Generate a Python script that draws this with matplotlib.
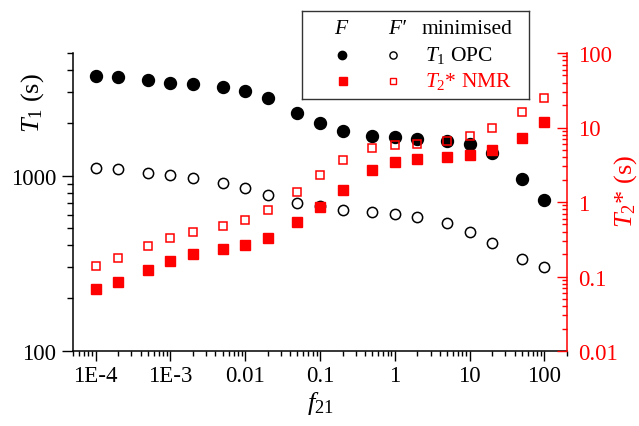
import matplotlib
matplotlib.use("Agg")
import matplotlib.pyplot as plt
from matplotlib.ticker import FixedLocator, FixedFormatter, LogLocator, NullFormatter

plt.rcParams['font.family'] = ['Liberation Serif', 'DejaVu Serif']
plt.rcParams['mathtext.fontset'] = 'custom'
plt.rcParams['mathtext.rm'] = 'Liberation Serif'
plt.rcParams['mathtext.it'] = 'Liberation Serif:italic'
plt.rcParams['mathtext.bf'] = 'Liberation Serif:bold'

# ---- data ----
f21 = [1e-4, 2e-4, 5e-4, 1e-3, 2e-3, 5e-3, 1e-2, 2e-2, 5e-2, 0.1, 0.2, 0.5,
       1, 2, 5, 10, 20, 50, 100]
t1_F = [3710, 3630, 3490, 3390, 3315, 3200, 3050, 2780, 2285, 1995, 1800,
        1675, 1650, 1620, 1580, 1515, 1340, 956, 729]
t1_Fp = [1105, 1086, 1035, 1004, 973, 907, 847, 775, 698, 671, 637, 618,
         601, 583, 535, 477, 411, 333, 302]
t2_F = [0.0686, 0.0851, 0.123, 0.163, 0.200, 0.234, 0.267, 0.332, 0.539,
        0.865, 1.46, 2.69, 3.41, 3.81, 4.02, 4.32, 5.04, 7.30, 11.7]
t2_Fp = [0.140, 0.177, 0.259, 0.332, 0.396, 0.476, 0.573, 0.773, 1.37, 2.28,
         3.66, 5.26, 5.83, 6.07, 6.66, 7.77, 9.75, 16.0, 24.9]

xtick_vals = [1e-4, 1e-3, 1e-2, 0.1, 1, 10, 100]
xtick_labels = ['1E-4', '1E-3', '0.01', '0.1', '1', '10', '100']
y1tick_vals = [100, 1000]
y1tick_labels = ['100', '1000']
y2tick_vals = [0.01, 0.1, 1, 10, 100]
y2tick_labels = ['0.01', '0.1', '1', '10', '100']

RED = '#ff0000'
FS = 16.5

fig = plt.figure(figsize=(6.39, 4.27), dpi=100)
ax1 = fig.add_axes([73/639, 1-352/427, 494/639, 298/427])
ax2 = ax1.twinx()

ax1.plot(f21, t1_F, 'o', ms=8.6, mfc='black', mec='black', mew=1.0, ls='none')
ax1.plot(f21, t1_Fp, 'o', ms=7.4, mfc='none', mec='black', mew=1.1, ls='none')
ax2.plot(f21, t2_F, 's', ms=6.8, mfc=RED, mec=RED, mew=1.0, ls='none')
ax2.plot(f21, t2_Fp, 's', ms=6.3, mfc='none', mec=RED, mew=1.1, ls='none')

for a in (ax1, ax2):
    a.set_xscale('log')
    a.set_yscale('log')
ax1.set_xlim(5e-5, 200)
ax1.set_ylim(100, 5000)
ax2.set_ylim(0.01, 100)

# x axis
ax1.xaxis.set_major_locator(FixedLocator(xtick_vals))
ax1.xaxis.set_major_formatter(FixedFormatter(xtick_labels))
ax1.xaxis.set_minor_locator(LogLocator(base=10, subs=range(2, 10), numticks=20))
ax1.xaxis.set_minor_formatter(NullFormatter())
ax1.tick_params(axis='x', which='major', direction='out', length=7.2, width=1.0,
                labelsize=FS, pad=3)
ax1.tick_params(axis='x', which='minor', direction='out', length=3.6, width=1.0)

# left y axis
ax1.yaxis.set_major_locator(FixedLocator(y1tick_vals))
ax1.yaxis.set_major_formatter(FixedFormatter(y1tick_labels))
ax1.yaxis.set_minor_locator(LogLocator(base=10, subs=range(2, 10), numticks=20))
ax1.yaxis.set_minor_formatter(NullFormatter())
ax1.tick_params(axis='y', which='major', direction='out', length=8, width=1.0,
                labelsize=FS, pad=4)
ax1.tick_params(axis='y', which='minor', direction='out', length=4.3, width=1.0)

# right y axis
ax2.yaxis.set_major_locator(FixedLocator(y2tick_vals))
ax2.yaxis.set_major_formatter(FixedFormatter(y2tick_labels))
ax2.yaxis.set_minor_locator(LogLocator(base=10, subs=range(2, 10), numticks=20))
ax2.yaxis.set_minor_formatter(NullFormatter())
ax2.tick_params(axis='y', which='major', direction='in', length=7.2, width=1.0,
                labelsize=FS, pad=8, colors=RED)
ax2.tick_params(axis='y', which='minor', direction='in', length=3.6, width=1.0,
                colors=RED)

for s in ('top', 'right'):
    ax1.spines[s].set_visible(False)
for s in ('top', 'left', 'bottom'):
    ax2.spines[s].set_visible(False)
ax2.spines['right'].set_color(RED)
for sp in ('left', 'bottom'):
    ax1.spines[sp].set_linewidth(1.1)
ax2.spines['right'].set_linewidth(1.1)

ax1.set_xlabel('$f_{21}$', fontsize=19, labelpad=2)
ax1.set_ylabel('$T_1$ (s)', fontsize=19, va='center', ha='center')
ax1.yaxis.set_label_coords(-0.082, 0.836)
ax2.set_ylabel('$T_2$* (s)', fontsize=19, color=RED, rotation=90,
               va='center', ha='center')
ax2.yaxis.set_label_coords(1.119, 0.537)

# ---- custom legend box ----
lx0, lx1, ly0, ly1 = 301.7, 529.0, 12.3, 100.0
lg = fig.add_axes([lx0/639, 1-ly1/427, (lx1-lx0)/639, (ly1-ly0)/427])
lg.set_xlim(lx0, lx1)
lg.set_ylim(ly1, ly0)
lg.set_xticks([])
lg.set_yticks([])
for s in lg.spines.values():
    s.set_linewidth(1.0)
    s.set_color('#333333')
LFS = 15.5
lg.text(342, 29, '$F$', fontsize=LFS, ha='center', va='center')
lg.text(397, 29, 'F\u2032', fontsize=LFS, ha='center', va='center', style='italic')
lg.text(421.5, 29, 'minimised', fontsize=LFS, ha='left', va='center')
lg.plot([342], [56], 'o', ms=6, mfc='black', mec='black')
lg.plot([393], [56], 'o', ms=5.2, mfc='none', mec='black', mew=1.0)
lg.text(425, 55, '$T_1$ OPC', fontsize=LFS, ha='left', va='center')
lg.plot([343], [82], 's', ms=5.2, mfc=RED, mec=RED)
lg.plot([393], [82], 's', ms=4.8, mfc='none', mec=RED, mew=1.0)
lg.text(425, 81, '$T_2$* NMR', fontsize=LFS, ha='left', va='center', color=RED)

fig.savefig('out.png', dpi=100)
